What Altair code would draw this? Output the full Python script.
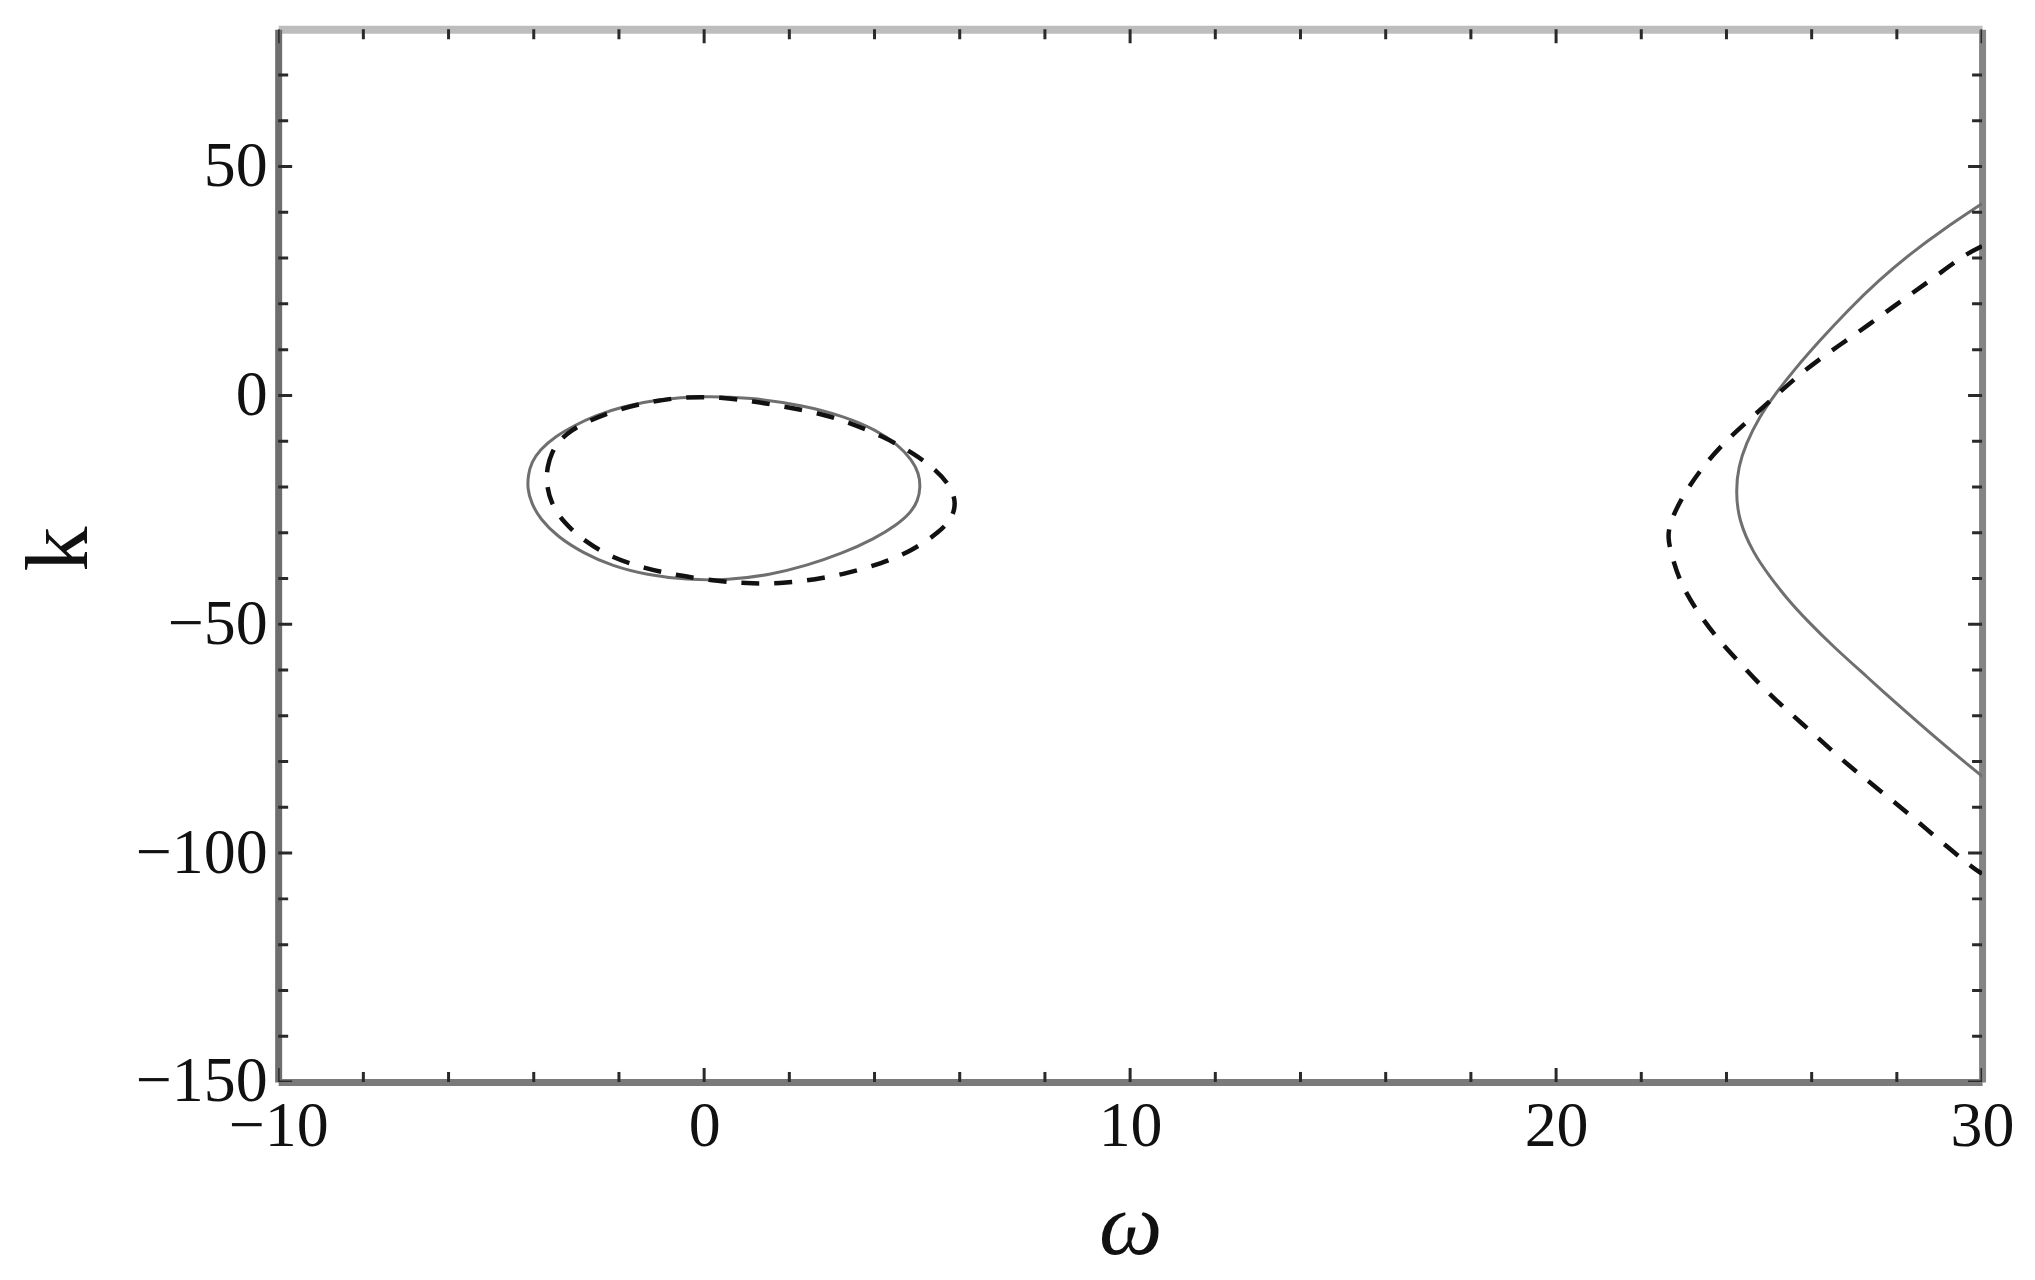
import altair as alt
import pandas as pd

# ---------------- data ----------------
# solid closed curve (left)
solid_loop_w = [-4.15, -4.13, -4.05, -3.86, -3.50, -3.05, -2.55, -1.90, -1.10, -0.05, 1.10, 2.30,
                3.30, 4.05, 4.55, 4.88, 5.04, 5.08, 5.02, 4.85, 4.52, 4.00, 3.25, 2.40,
                1.55, 0.55, -0.40, -1.35, -2.15, -2.85, -3.45, -3.85, -4.06]
solid_loop_k = [-20.3, -17.3, -14.6, -11.9, -9.0, -6.6, -4.4, -2.4, -0.9, -0.1, -0.5, -2.1,
                -4.6, -7.6, -10.8, -14.1, -17.0, -20.0, -23.0, -25.6, -28.3, -31.3, -34.5, -37.2,
                -39.2, -40.4, -40.3, -39.2, -37.3, -34.4, -30.8, -27.0, -23.5]

# dashed closed curve (left)
dash_loop_w = [-3.71, -3.68, -3.58, -3.40, -3.10, -2.75, -2.05, -1.19, -0.41, 0.38, 1.16, 1.86,
               2.72, 3.43, 4.21, 4.91, 5.45, 5.78, 5.92, 5.82, 5.52, 4.87, 4.17, 3.35,
               2.57, 1.78, 1.00, 0.22, -0.64, -1.39, -2.13, -2.79, -3.30, -3.60]
dash_loop_k = [-19.0, -15.5, -12.5, -9.8, -7.5, -5.7, -3.1, -1.2, -0.3, -0.4, -1.3, -2.4,
               -3.9, -6.0, -9.0, -12.6, -16.3, -19.8, -23.4, -26.9, -29.9, -34.0, -36.7, -38.9,
               -40.3, -41.1, -41.1, -40.5, -39.3, -37.8, -35.6, -32.0, -27.8, -23.5]

# solid open branch (right)
solid_branch_w = [30.0, 29.06, 28.32, 27.58, 26.85, 26.20, 25.58, 25.15, 24.77, 24.46, 24.28,
                  24.22, 24.28, 24.63, 25.02, 25.41, 25.88, 26.51, 27.29, 28.07, 28.86, 29.64, 30.03]
solid_branch_k = [41.9, 36.1, 31.0, 25.2, 18.6, 12.1, 5.5, 0.4, -4.7, -10.5, -15.6,
                  -20.7, -27.2, -34.5, -39.6, -44.3, -49.1, -54.9, -61.4, -68.0, -74.4, -80.5, -83.4]

# dashed open branch (right)
dash_branch_w = [30.0, 29.56, 28.86, 28.23, 27.60, 26.94, 26.31, 25.65, 25.10, 24.47, 23.89,
                 23.38, 22.91, 22.67, 22.62, 22.70, 22.91, 23.34, 23.81, 24.32, 24.90, 25.49,
                 26.08, 26.67, 27.29, 27.92, 28.54, 29.13, 29.79, 30.0]
dash_branch_k = [32.6, 30.6, 25.6, 21.5, 17.2, 12.8, 8.8, 4.1, -0.6, -5.8, -10.8,
                 -16.3, -22.9, -28.0, -31.0, -34.5, -41.0, -47.6, -53.4, -58.5, -64.3, -69.4,
                 -74.2, -79.3, -84.0, -88.7, -93.5, -98.2, -103.3, -104.5]

x_labels = [-10, 0, 10, 20, 30]
y_labels = [-150, -100, -50, 0, 50]
x_minor = [v for v in range(-10, 31, 2) if v % 10 != 0]
y_minor = [v for v in range(-150, 80, 10) if v % 50 != 0]

X_DOMAIN = [-10, 30]
Y_DOMAIN = [-150, 80]

# ---------------- chart ----------------
W, H = 1706, 1054
FONT = "Liberation Serif"
xscale = alt.Scale(domain=X_DOMAIN, nice=False, zero=False)
yscale = alt.Scale(domain=Y_DOMAIN, nice=False, zero=False)


def frame(ws, ks):
    return pd.DataFrame({"w": ws, "k": ks, "i": list(range(len(ws)))})


x_axis_bottom = alt.Axis(
    orient="bottom", values=x_labels, title="ω", grid=False, ticks=False, tickSize=0,
    labelPadding=64, labelBaseline="alphabetic", labelFont=FONT, labelFontSize=64,
    labelColor="#111111", labelFlush=False, labelOverlap=False,
    domainColor="#7a7a7a", domainWidth=7,
    titleFont=FONT, titleFontSize=90, titleFontStyle="italic", titleFontWeight="normal",
    titleColor="#111111", titleBaseline="alphabetic", titleY=172,
)
y_axis_left = alt.Axis(
    orient="left", values=y_labels, title="k", grid=False, ticks=False, tickSize=0,
    labelPadding=11, labelAlign="right", labelBaseline="middle", labelFont=FONT,
    labelFontSize=64, labelColor="#111111", labelFlush=False, labelOverlap=False,
    domainColor="#6e6e6e", domainWidth=7,
    titleFont=FONT, titleFontSize=90, titleFontWeight="normal", titleColor="#111111",
    titleAngle=270, titleAlign="center", titleBaseline="alphabetic", titleX=-191.5, titleY=520,
)
x_axis_top = alt.Axis(orient="top", labels=False, ticks=False, grid=False, title=None,
                      domainColor="#bdbdbd", domainWidth=8)
y_axis_right = alt.Axis(orient="right", labels=False, ticks=False, grid=False, title=None,
                        domainColor="#858585", domainWidth=7)


def curve(df, interp, color, width, xaxis, yaxis, dash=None):
    kw = dict(interpolate=interp, color=color, strokeWidth=width, clip=True,
              strokeCap="butt", strokeJoin="round")
    if dash is not None:
        kw["strokeDash"] = dash
    return alt.Chart(df).mark_line(**kw).encode(
        x=alt.X("w:Q", scale=xscale, axis=xaxis),
        y=alt.Y("k:Q", scale=yscale, axis=yaxis),
        order=alt.Order("i:Q"),
    )


SOLID = "#6f6f6f"
DASH = "#111111"
DASH_PAT = [18, 15]

l_solid_loop = curve(frame(solid_loop_w, solid_loop_k), "basis-closed", SOLID, 3,
                     x_axis_bottom, y_axis_left)
l_dash_loop = curve(frame(dash_loop_w, dash_loop_k), "basis-closed", DASH, 4.5,
                    x_axis_top, y_axis_right, DASH_PAT)
l_solid_branch = curve(frame(solid_branch_w, solid_branch_k), "basis", SOLID, 3,
                       None, None)
l_dash_branch = curve(frame(dash_branch_w, dash_branch_k), "basis", DASH, 4.5,
                      None, None, DASH_PAT)


def ticks(vals, side, size):
    df = pd.DataFrame({"v": vals})
    if side in ("bottom", "top"):
        yd = Y_DOMAIN[0] if side == "bottom" else Y_DOMAIN[1]
        enc = dict(x=alt.X("v:Q", scale=xscale, axis=None),
                   y=alt.YDatum(yd, type="quantitative", scale=yscale, axis=None))
        orient = "vertical"
    else:
        xd = X_DOMAIN[0] if side == "left" else X_DOMAIN[1]
        enc = dict(y=alt.Y("v:Q", scale=yscale, axis=None),
                   x=alt.XDatum(xd, type="quantitative", scale=xscale, axis=None))
        orient = "horizontal"
    return alt.Chart(df).mark_tick(orient=orient, size=size, thickness=3,
                                   color="#2a2a2a", clip=True, opacity=1).encode(**enc)


tick_layers = []
for side in ("bottom", "top"):
    tick_layers.append(ticks(x_minor, side, 20))
    tick_layers.append(ticks(x_labels, side, 28))
for side in ("left", "right"):
    tick_layers.append(ticks(y_minor, side, 20))
    tick_layers.append(ticks(y_labels, side, 28))

chart = alt.layer(
    l_solid_loop, l_dash_loop, l_solid_branch, l_dash_branch, *tick_layers
).resolve_axis(x="independent", y="independent").properties(
    width=W, height=H,
    padding={"left": 270.5, "top": 20.5, "right": 45, "bottom": 188},
    autosize=alt.AutoSizeParams(type="none"),
    background="white",
).configure_view(stroke="transparent")

chart.save("out.html", embed_options={"renderer": "svg", "actions": False})
